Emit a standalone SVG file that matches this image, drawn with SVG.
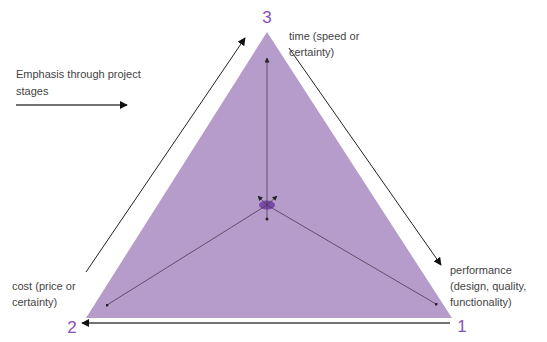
<svg xmlns="http://www.w3.org/2000/svg" width="547" height="342" viewBox="0 0 547 342">
<defs>
<style>
.t{font-family:"Liberation Sans",Arial,sans-serif;font-size:11px;fill:#444}
.n{font-family:"Liberation Sans",Arial,sans-serif;font-size:17px;fill:#8a4fb8}
.c{stroke:#222;stroke-width:1;fill:none}
.g{stroke:#444;stroke-width:1.3;fill:none}
.i{stroke:#4a3a55;stroke-width:0.8;fill:none}
</style>
<marker id="ah" viewBox="0 0 10 10" refX="9" refY="5" markerWidth="8" markerHeight="8" orient="auto" markerUnits="userSpaceOnUse"><path d="M0,0 L10,5 L0,10 z" fill="#111"/></marker>
<marker id="sh" viewBox="0 0 10 10" refX="9" refY="5" markerWidth="5" markerHeight="5" orient="auto" markerUnits="userSpaceOnUse"><path d="M0,0 L10,5 L0,10 z" fill="#222"/></marker>
<marker id="dot" viewBox="0 0 4 4" refX="2" refY="2" markerWidth="3" markerHeight="3" markerUnits="userSpaceOnUse"><circle cx="2" cy="2" r="2" fill="#222"/></marker>
</defs>
<g id="triangle"><polygon points="267,32 86,318 452,318" fill="#b59cca"/></g>
<g id="center"><ellipse cx="267" cy="205" rx="8" ry="4.5" fill="#7a4aa8"/></g>
<g id="connectors">
<line class="i" x1="267" y1="218" x2="267" y2="58" marker-end="url(#sh)"/>
<line class="i" x1="267" y1="205" x2="107" y2="305" marker-end="url(#dot)"/>
<line class="i" x1="267" y1="205" x2="436" y2="304" marker-end="url(#dot)"/>
<line class="i" x1="267" y1="205" x2="258" y2="196" marker-end="url(#sh)"/>
<line class="i" x1="267" y1="205" x2="277" y2="196" marker-end="url(#sh)"/>
<circle cx="267" cy="219" r="1.5" fill="#222"/>
<line class="c" x1="86" y1="272" x2="245" y2="38" marker-end="url(#ah)"/>
<line class="c" x1="289" y1="48" x2="441" y2="265" marker-end="url(#ah)"/>
<line class="g" x1="450" y1="323" x2="82" y2="323" marker-end="url(#ah)"/>
<line class="g" x1="16" y1="105" x2="127" y2="105" marker-end="url(#ah)"/>
</g>
<g id="labels">
<text class="n" x="267" y="23" text-anchor="middle">3</text>
<text class="n" x="72" y="333" text-anchor="middle">2</text>
<text class="n" x="462" y="332" text-anchor="middle">1</text>
<text class="t" x="289" y="40">time (speed or</text>
<text class="t" x="289" y="56">certainty)</text>
<text class="t" x="16" y="78">Emphasis through project</text>
<text class="t" x="16" y="95">stages</text>
<text class="t" x="12" y="290">cost (price or</text>
<text class="t" x="12" y="306">certainty)</text>
<text class="t" x="450" y="274">performance</text>
<text class="t" x="450" y="290">(design, quality,</text>
<text class="t" x="450" y="306">functionality)</text>
</g>
</svg>
